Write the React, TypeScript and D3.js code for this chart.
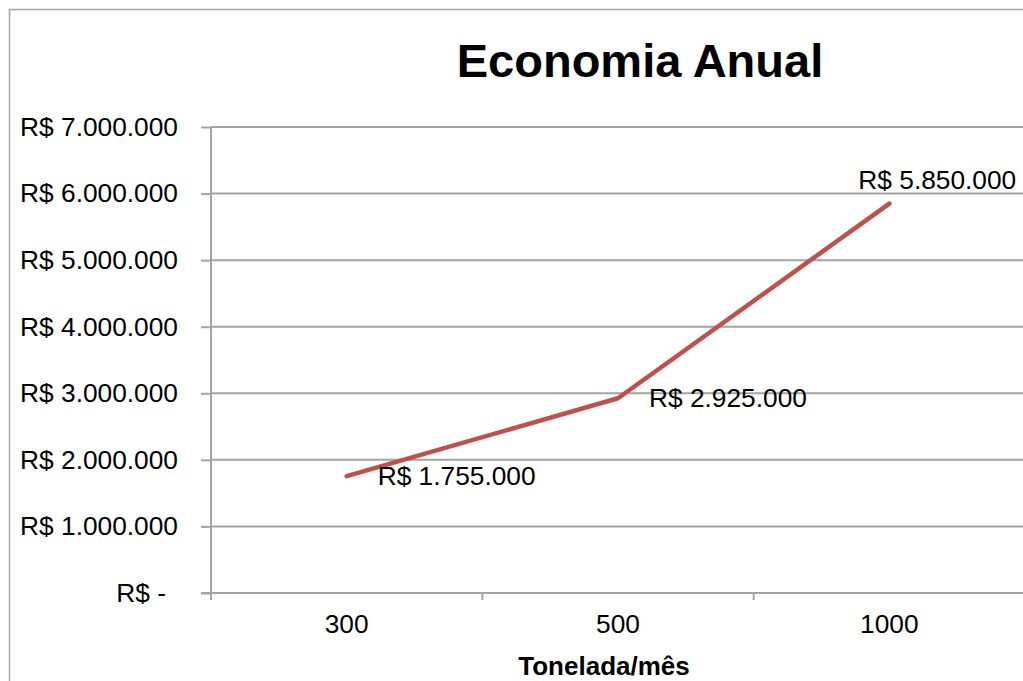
import React, { useRef, useEffect } from "react";
import * as d3 from "d3";

const categories = ["300", "500", "1000"];
const values = [1755000, 2925000, 5850000];
const yTicks = [0, 1000000, 2000000, 3000000, 4000000, 5000000, 6000000, 7000000];

const chartTitle = "Economia Anual";
const xTitle = "Tonelada/mês";

const fmt = (v: number) =>
  v === 0 ? "R$ -" : "R$ " + d3.format(",")(v).replace(/,/g, ".");

const App = () => {
  const svgRef = useRef<SVGSVGElement>(null);

  useEffect(() => {
    const svg = d3.select(svgRef.current);
    svg.selectAll("*").remove();
    const font = "'Liberation Sans', Arial, sans-serif";
    const grey = "#a3a3a3";
    const labelSize = "26.3px";

    const margin = { top: 127, left: 211 };
    const innerHeight = 593 - margin.top;
    const innerWidth = 814;

    /* outer chart border */
    svg
      .append("rect")
      .attr("x", 9.5)
      .attr("y", 9.5)
      .attr("width", 1100)
      .attr("height", 800)
      .attr("fill", "white")
      .attr("stroke", "#a6a6a6")
      .attr("stroke-width", 1.5);

    /* scales */
    const xScale = d3.scaleBand().domain(categories).range([0, innerWidth]);
    const yScale = d3.scaleLinear().domain([0, 7000000]).range([innerHeight, 0]);

    const g = svg
      .append("g")
      .attr("transform", `translate(${margin.left}, ${margin.top})`);

    /* gridlines */
    g.selectAll(".grid")
      .data(yTicks.slice(1))
      .enter()
      .append("line")
      .attr("x1", 0)
      .attr("x2", innerWidth)
      .attr("y1", (d) => yScale(d))
      .attr("y2", (d) => yScale(d))
      .attr("stroke", grey)
      .attr("stroke-width", 2);

    /* y axis */
    const yAxis = d3
      .axisLeft(yScale)
      .tickValues(yTicks)
      .tickSize(10)
      .tickPadding(23)
      .tickFormat((d) => fmt(d as number));
    const ya = g.append("g").call(yAxis);
    ya.select(".domain").remove();
    ya.selectAll(".tick line").attr("stroke", grey).attr("stroke-width", 2);
    ya.append("line")
      .attr("x1", 0)
      .attr("x2", 0)
      .attr("y1", 0)
      .attr("y2", innerHeight + 7)
      .attr("stroke", grey)
      .attr("stroke-width", 2);
    ya.selectAll(".tick text")
      .attr("fill", "#000")
      .style("font-family", font)
      .style("font-size", labelSize)
      .attr("dx", (d) => ((d as number) === 0 ? -12 : 0));

    /* x axis */
    const xa = g.append("g").attr("transform", `translate(0, ${innerHeight})`);
    xa.append("line")
      .attr("x1", -10)
      .attr("x2", innerWidth)
      .attr("stroke", grey)
      .attr("stroke-width", 2);
    xa.selectAll(".xtick")
      .data(categories)
      .enter()
      .append("line")
      .attr("x1", (d) => xScale(d)!)
      .attr("x2", (d) => xScale(d)!)
      .attr("y1", 0)
      .attr("y2", 7)
      .attr("stroke", grey)
      .attr("stroke-width", 2);
    xa.selectAll(".xlabel")
      .data(categories)
      .enter()
      .append("text")
      .attr("x", (d) => xScale(d)! + xScale.bandwidth() / 2)
      .attr("y", 40)
      .attr("text-anchor", "middle")
      .style("font-family", font)
      .style("font-size", labelSize)
      .text((d) => d);

    /* line */
    const pts = categories.map((c, i) => ({ c, v: values[i] }));
    const line = d3
      .line<{ c: string; v: number }>()
      .x((d) => xScale(d.c)! + xScale.bandwidth() / 2)
      .y((d) => yScale(d.v));
    g.append("path")
      .datum(pts)
      .attr("d", line)
      .attr("fill", "none")
      .attr("stroke", "#C0504D")
      .attr("stroke-width", 4.5)
      .attr("stroke-linecap", "round")
      .attr("stroke-linejoin", "round");

    /* data labels */
    g.selectAll(".dlabel")
      .data(pts)
      .enter()
      .append("text")
      .attr("x", (d, i) => xScale(d.c)! + xScale.bandwidth() / 2 + (i === 2 ? -31 : 31))
      .attr("y", (d, i) => yScale(d.v) + (i === 2 ? -24 : 0))
      .attr("dy", "0.35em")
      .style("font-family", font)
      .style("font-size", labelSize)
      .text((d) => fmt(d.v));

    /* titles */
    svg
      .append("text")
      .attr("x", 640)
      .attr("y", 77)
      .attr("text-anchor", "middle")
      .style("font-family", font)
      .style("font-size", "47px")
      .style("font-weight", "bold")
      .text(chartTitle);

    svg
      .append("text")
      .attr("x", 604)
      .attr("y", 675)
      .attr("text-anchor", "middle")
      .style("font-family", font)
      .style("font-size", "26px")
      .style("font-weight", "bold")
      .text(xTitle);
  }, []);

  return (
    <svg
      ref={svgRef}
      width={1023}
      height={681}
      style={{ position: "absolute", left: 0, top: 0, display: "block" }}
    ></svg>
  );
};

export default App;
